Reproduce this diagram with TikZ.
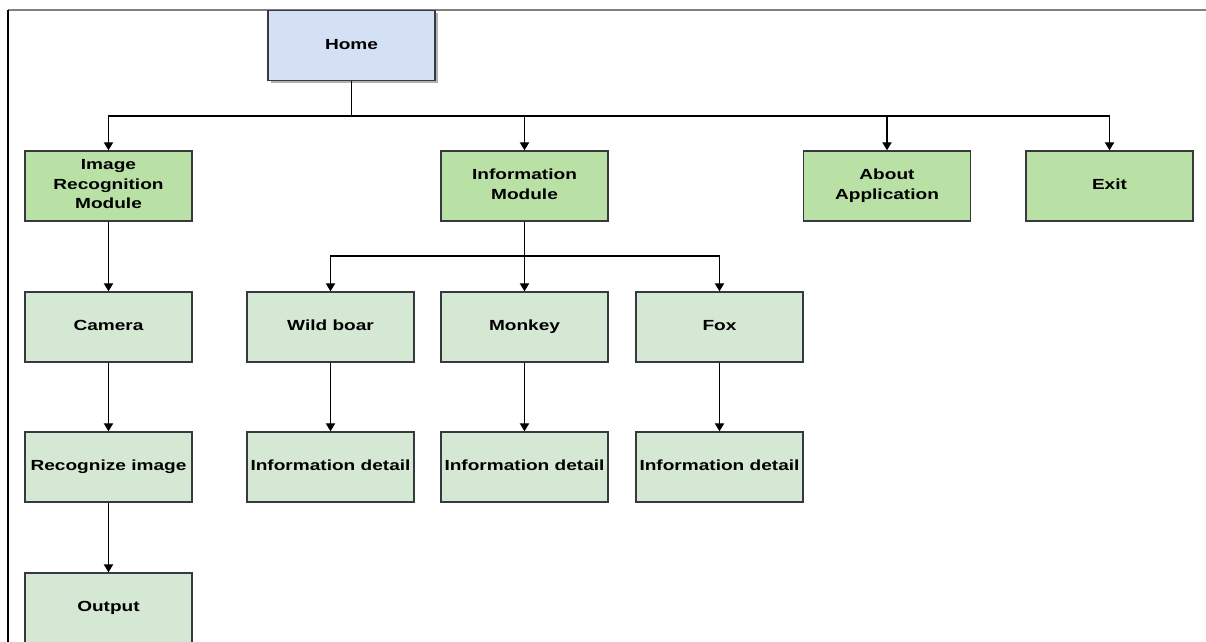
\documentclass[tikz,border=0pt]{standalone}
\usepackage{fontspec}
\usepackage{tikz}
\usetikzlibrary{arrows.meta,shadows}
\newfontfamily\boxfont[FakeStretch=1.3]{Liberation Sans}
\newcommand\boxstrut{\rule[-2.6pt]{0pt}{10.6pt}}
\definecolor{homeblue}{HTML}{D4E1F5}
\definecolor{modgreen}{HTML}{B9E0A5}
\definecolor{subgreen}{HTML}{D5E8D4}
\definecolor{edgegray}{HTML}{36393D}

\tikzset{
  box/.style={draw=edgegray, line width=1.1pt, minimum width=125pt, minimum height=52.5pt,
    inner sep=0pt, align=center, font=\boxfont\bfseries\fontsize{11}{14.6}\selectfont,
    execute at begin node=\boxstrut, execute at end node=\boxstrut},
  homebox/.style={box, fill=homeblue, drop shadow={shadow xshift=2.2pt, shadow yshift=-2.2pt, fill=black!30, opacity=1}},
  modbox/.style={box, fill=modgreen},
  subbox/.style={box, fill=subgreen},
  link/.style={line width=1pt, -{Triangle[width=7pt,length=6pt]}}
}

\begin{document}
\begin{tikzpicture}[x=0.75pt,y=-0.75pt]
                \useasboundingbox (0,0) rectangle (1206,642);
                % frame
                \draw [black!50, line width=1.5pt] (8,10) -- (1206,10);
                \draw [black, line width=2pt] (8,10) -- (8,642);
                % top
                \node [homebox] (home) at (351.5,45.5) {Home};
                % modules
                \node [modbox] (recog) at (108.5,186) {Image\\Recognition\\Module};
                \node [modbox] (info) at (524.5,186) {Information\\Module};
                \node [modbox] (about) at (887,186) {About\\Application};
                \node [modbox] (exit) at (1109.5,186) {Exit};
                % image recognition branch
                \node [subbox] (camera) at (108.5,327) {Camera};
                \node [subbox] (recimg) at (108.5,467) {Recognize image};
                \node [subbox] (output) at (108.5,608) {Output};
                % information branch
                \node [subbox] (boar) at (330.5,327) {Wild boar};
                \node [subbox] (monkey) at (524.5,327) {Monkey};
                \node [subbox] (fox) at (719.5,327) {Fox};
                \node [subbox] (boarinfo) at (330.5,467) {Information detail};
                \node [subbox] (monkeyinfo) at (524.5,467) {Information detail};
                \node [subbox] (foxinfo) at (719.5,467) {Information detail};
                % connectors
                \coordinate (homebus) at (351.5,116);
                \coordinate (infobus) at (524.5,256);
                \draw [line width=1pt] (home.south) -- (homebus);
                \draw [link] (homebus) -| (recog.north);
                \draw [link] (homebus) -| (info.north);
                \draw [link] (homebus) -| (about.north);
                \draw [link] (homebus) -| (exit.north);
                \draw [link] (recog) -- (camera);
                \draw [link] (camera) -- (recimg);
                \draw [link] (recimg) -- (output);
                \draw [link] (info) -- (monkey);
                \draw [link] (infobus) -| (boar.north);
                \draw [link] (infobus) -| (fox.north);
                \draw [link] (boar) -- (boarinfo);
                \draw [link] (monkey) -- (monkeyinfo);
                \draw [link] (fox) -- (foxinfo);
            \end{tikzpicture}
\end{document}
